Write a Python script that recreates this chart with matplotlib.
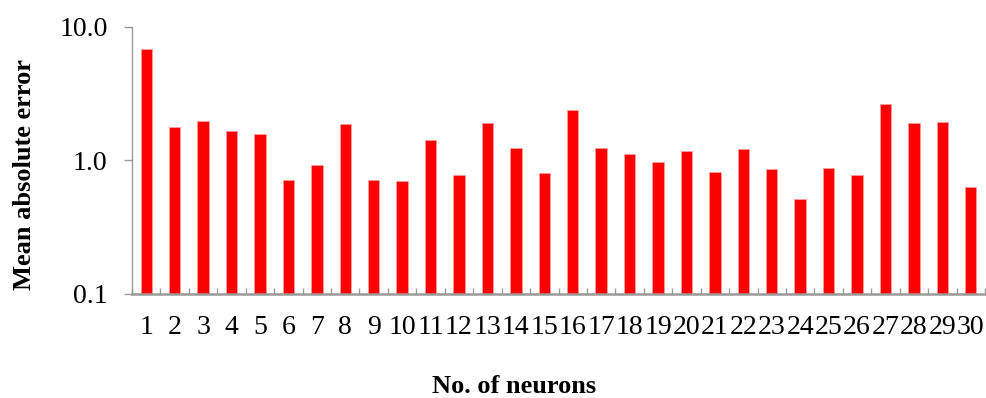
import matplotlib
matplotlib.use("Agg")
import matplotlib.pyplot as plt
import numpy as np

# Mean absolute error for networks with 1..30 hidden neurons
neurons = list(range(1, 31))
mae = [6.8, 1.77, 1.97, 1.65, 1.57, 0.71, 0.92, 1.86, 0.71, 0.70,
       1.43, 0.77, 1.90, 1.24, 0.80, 2.38, 1.23, 1.11, 0.97, 1.17,
       0.82, 1.22, 0.86, 0.515, 0.88, 0.77, 2.66, 1.90, 1.94, 0.63]
y_ticks = [0.1, 1.0, 10.0]
y_tick_labels = ["0.1", "1.0", "10.0"]

plt.rcParams["font.family"] = ["Liberation Serif", "DejaVu Serif"]
axis_grey = "#9a9a9a"

fig = plt.figure(figsize=(9.86, 3.98), dpi=100)
W, H = 986, 398
left, right, top, bottom = 132, 985, 27, 293.7
ax = fig.add_axes([left / W, 1 - bottom / H, (right - left) / W, (bottom - top) / H])

ax.bar(neurons, mae, width=0.4, color="#ff0000", edgecolor="#ff9a9a",
       linewidth=0.6, zorder=2)

ax.set_yscale("log")
ax.set_ylim(0.1, 10)
ax.set_xlim(0.5, 30.5)
ax.set_yticks(y_ticks)
ax.set_yticklabels(y_tick_labels)
ax.yaxis.set_minor_locator(matplotlib.ticker.NullLocator())

ax.set_xticks(neurons)
ax.set_xticklabels([str(n) for n in neurons])
ax.set_xticks(np.arange(0.5, 31, 1.0), minor=True)

for s in ("top", "right"):
    ax.spines[s].set_visible(False)
ax.spines["left"].set_color(axis_grey)
ax.spines["left"].set_linewidth(1.0)
ax.spines["bottom"].set_color(axis_grey)
ax.spines["bottom"].set_linewidth(1.8)
ax.spines["bottom"].set_zorder(3)

ax.tick_params(axis="y", which="major", direction="out", length=5.5,
               width=1.0, color=axis_grey, pad=12, labelsize=20)
ax.tick_params(axis="x", which="both", direction="in", length=4,
               width=1.0, color=axis_grey, pad=15, labelsize=20)
for t in ax.xaxis.get_major_ticks() + ax.xaxis.get_minor_ticks():
    t.tick1line.set_zorder(4)

fig.text(514 / W, 1 - 393 / H, "No. of neurons", ha="center", va="baseline",
         fontsize=19, fontweight="bold")
fig.text(25 / W, 1 - 175 / H, "Mean absolute error", ha="center", va="center",
         rotation=90, fontsize=19, fontweight="bold")

fig.savefig("out.png", dpi=100)
